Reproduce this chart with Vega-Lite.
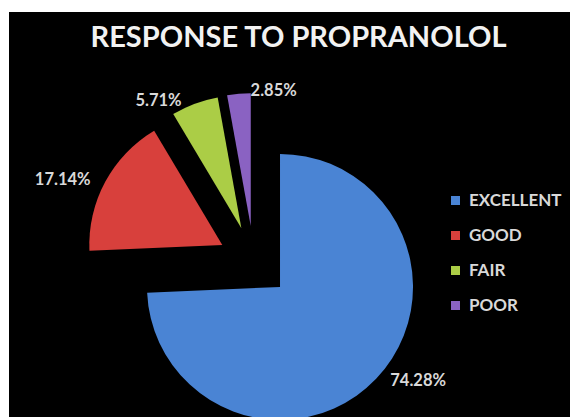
{
  "$schema": "https://vega.github.io/schema/vega-lite/v6.json",
  "width": 561,
  "height": 405,
  "autosize": {"type": "none"},
  "padding": {"left": 9, "top": 12, "right": 0, "bottom": 0},
  "background": "white",
  "view": {"fill": "black", "stroke": null},
  "title": {
    "text": "RESPONSE TO PROPRANOLOL",
    "color": "#f2f2f2",
    "font": "Lato",
    "fontWeight": "bold",
    "fontSize": 29,
    "anchor": "middle",
    "offset": -41,
    "dx": 9
  },
  "data": {
    "values": [
      {"response": "EXCELLENT", "pct": 0.7428},
      {"response": "GOOD", "pct": 0.1714},
      {"response": "FAIR", "pct": 0.0571},
      {"response": "POOR", "pct": 0.0285}
    ]
  },
  "encoding": {
    "theta": {"field": "pct", "type": "quantitative", "stack": true},
    "order": {"field": "pct", "sort": "descending"},
    "color": {
      "field": "response",
      "type": "nominal",
      "scale": {
        "domain": ["EXCELLENT", "GOOD", "FAIR", "POOR"],
        "range": ["#4a84d4", "#d8403c", "#abcd46", "#8a62c2"]
      },
      "legend": {
        "orient": "none",
        "legendX": 438,
        "legendY": 180,
        "title": null,
        "symbolType": "square",
        "symbolSize": 81,
        "symbolStrokeWidth": 0,
        "labelColor": "#d9d9d9",
        "labelFont": "Lato",
        "labelFontWeight": "bold",
        "labelFontSize": 17,
        "labelOffset": 5,
        "rowPadding": 17,
        "padding": 0
      }
    }
  },
  "layer": [
    {
      "mark": {
        "type": "arc",
        "outerRadius": 133,
        "xOffset": {"expr": "-35.5 + 36*sin(PI*(datum.pct_start+datum.pct_end)/0.9998)"},
        "yOffset": {"expr": "47.5 - 36*cos(PI*(datum.pct_start+datum.pct_end)/0.9998)"}
      }
    },
    {
      "mark": {
        "type": "text",
        "radius": 136,
        "font": "Lato",
        "fontWeight": "bold",
        "fontSize": 16.5,
        "color": "#d9d9d9",
        "align": {"expr": "sin(PI*(datum.pct_start+datum.pct_end)/0.9998) > -0.15 ? 'left' : 'right'"},
        "dx": {"expr": "sin(PI*(datum.pct_start+datum.pct_end)/0.9998) > -0.15 ? 12 : -12"},
        "xOffset": {"expr": "-35.5 + 36*sin(PI*(datum.pct_start+datum.pct_end)/0.9998)"},
        "yOffset": {"expr": "47.5 - 36*cos(PI*(datum.pct_start+datum.pct_end)/0.9998)"}
      },
      "encoding": {
        "text": {"field": "pct", "type": "quantitative", "format": ".2%"},
        "color": {"value": "#d9d9d9"}
      }
    }
  ]
}
